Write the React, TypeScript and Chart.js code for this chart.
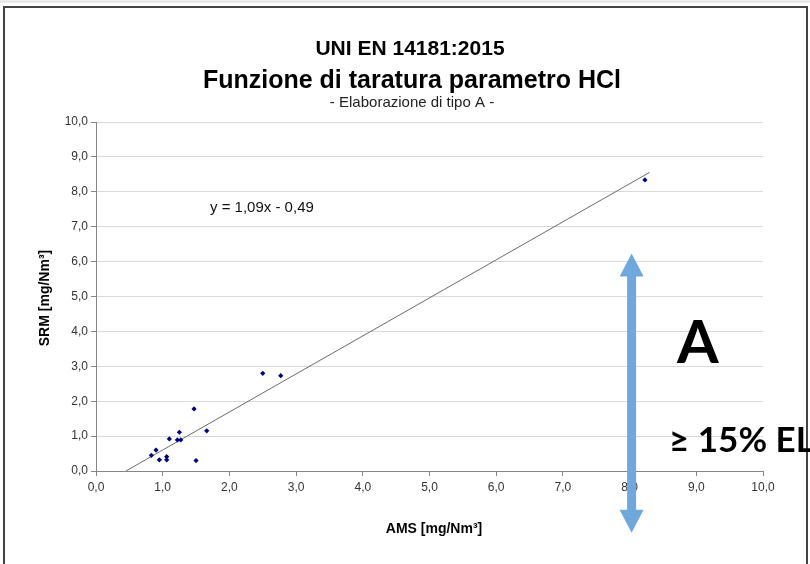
import React, { useEffect, useRef } from "react";
import { Chart, registerables } from "chart.js";
Chart.register(...registerables);

// Data
const amsValues = [0.83, 0.9, 0.95, 1.06, 1.06, 1.1, 1.22, 1.27, 1.25, 1.47, 1.5, 1.66, 2.5, 2.77, 8.23];
const srmValues = [0.45, 0.6, 0.32, 0.41, 0.32, 0.92, 0.89, 0.89, 1.11, 1.78, 0.3, 1.15, 2.8, 2.73, 8.34];
const trendSlope = 1.09;
const trendIntercept = -0.49;
const trendRange = [0.45, 8.3];
const titleLines = ["UNI EN 14181:2015", "Funzione di taratura parametro HCl"];
const subtitleText = "- Elaborazione di tipo A -";
const equationText = "y = 1,09x - 0,49";
const xAxisTitle = "AMS [mg/Nm³]";
const yAxisTitle = "SRM [mg/Nm³]";
const axisMin = 0;
const axisMax = 10;
const axisStep = 1;
const arrowAt = { x: 8.03, top: 6.23, bottom: -1.77 };
const bigLabel = "A";
const rangeLabel = "≥ 15% EL";

const FONT = "'Liberation Sans', Arial, sans-serif";
const fmt = (v: number) => v.toFixed(1).replace(".", ",");

const overlay = {
  id: "overlay",
  afterDraw(chart: any) {
    const ctx = chart.ctx as CanvasRenderingContext2D;
    const xs = chart.scales.x;
    const ys = chart.scales.y;
    ctx.save();
    // frame
    ctx.strokeStyle = "#e2e2e2";
    ctx.lineWidth = 2;
    ctx.beginPath();
    ctx.moveTo(0, 1.5);
    ctx.lineTo(810, 1.5);
    ctx.stroke();
    ctx.strokeStyle = "#444";
    ctx.lineWidth = 2;
    ctx.beginPath();
    ctx.moveTo(4, 570);
    ctx.lineTo(4, 7);
    ctx.lineTo(807, 7);
    ctx.lineTo(807, 570);
    ctx.stroke();

    // titles
    ctx.fillStyle = "#000";
    ctx.textAlign = "center";
    ctx.textBaseline = "alphabetic";
    ctx.font = `bold 21px ${FONT}`;
    ctx.fillText(titleLines[0], 410, 55);
    ctx.font = `bold 25px ${FONT}`;
    ctx.fillText(titleLines[1], 412, 88);
    ctx.font = `15px ${FONT}`;
    ctx.fillStyle = "#222";
    ctx.fillText(subtitleText, 412, 107);

    // equation
    ctx.textAlign = "left";
    ctx.font = `15px ${FONT}`;
    ctx.fillStyle = "#111";
    ctx.fillText(equationText, 210, 212);

    // axis titles
    ctx.fillStyle = "#000";
    ctx.font = `bold 14px ${FONT}`;
    ctx.textAlign = "center";
    ctx.fillText(xAxisTitle, 434, 533);
    ctx.save();
    ctx.translate(49, 298);
    ctx.rotate(-Math.PI / 2);
    ctx.fillText(yAxisTitle, 0, 0);
    ctx.restore();

    // arrow
    const ax = xs.getPixelForValue(arrowAt.x);
    const at = ys.getPixelForValue(arrowAt.top);
    const ab = ys.getPixelForValue(arrowAt.bottom);
    const headH = 23;
    const headW = 12;
    const shaft = 4.5;
    ctx.fillStyle = "#6FA8DC";
    ctx.beginPath();
    ctx.moveTo(ax, at);
    ctx.lineTo(ax + headW, at + headH);
    ctx.lineTo(ax + shaft, at + headH);
    ctx.lineTo(ax + shaft, ab - headH);
    ctx.lineTo(ax + headW, ab - headH);
    ctx.lineTo(ax, ab);
    ctx.lineTo(ax - headW, ab - headH);
    ctx.lineTo(ax - shaft, ab - headH);
    ctx.lineTo(ax - shaft, at + headH);
    ctx.lineTo(ax - headW, at + headH);
    ctx.closePath();
    ctx.fill();

    ctx.fillStyle = "#000";
    ctx.textAlign = "left";
    ctx.font = `bold 60px Lato, 'Open Sans', sans-serif`;
    ctx.fillText(bigLabel, 677, 363);
    ctx.font = `bold 35px Lato, 'Open Sans', sans-serif`;
    ctx.fillText(rangeLabel, 669, 452);
    ctx.restore();
  },
};

export default function App() {
  const ref = useRef<HTMLCanvasElement | null>(null);
  useEffect(() => {
    document.body.style.margin = "0";
    const canvas = ref.current!;
    const chart = new Chart(canvas, {
      type: "scatter",
      data: {
        datasets: [
          {
            label: "Punti",
            data: amsValues.map((x, i) => ({ x, y: srmValues[i] })),
            pointStyle: "rectRot",
            pointRadius: 2.6,
            pointHoverRadius: 2.6,
            backgroundColor: "#000080",
            borderColor: "#000080",
            borderWidth: 0,
            order: 1,
          },
          {
            label: "Trend",
            data: trendRange.map((x) => ({ x, y: trendSlope * x + trendIntercept })),
            showLine: true,
            pointRadius: 0,
            borderColor: "#6a6a6a",
            borderWidth: 1,
            order: 2,
          } as any,
        ],
      },
      options: {
        animation: false,
        responsive: false,
        devicePixelRatio: 1,
        layout: { padding: { top: 122, left: 0, right: 47, bottom: 0 } },
        plugins: {
          legend: { display: false },
          tooltip: { enabled: false },
          title: { display: false },
        },
        scales: {
          x: {
            type: "linear",
            min: axisMin,
            max: axisMax,
            afterFit: (s: any) => {
              s.height = 93;
            },
            ticks: {
              stepSize: axisStep,
              callback: (v: any) => fmt(Number(v)),
              color: "#333",
              font: { family: FONT, size: 12 },
              padding: 4,
              maxRotation: 0,
              autoSkip: false,
            },
            grid: {
              drawOnChartArea: false,
              drawTicks: true,
              tickLength: 5,
              tickColor: "#868686",
            },
            border: { color: "#868686", width: 1 },
          },
          y: {
            type: "linear",
            min: axisMin,
            max: axisMax,
            afterFit: (s: any) => {
              s.width = 96;
            },
            ticks: {
              stepSize: axisStep,
              callback: (v: any) => fmt(Number(v)),
              color: "#333",
              font: { family: FONT, size: 12 },
              padding: 3,
              autoSkip: false,
            },
            grid: {
              color: "#d9d9d9",
              drawTicks: true,
              tickLength: 5,
              tickColor: "#868686",
            },
            border: { color: "#868686", width: 1 },
          },
        },
      },
      plugins: [overlay],
    });
    return () => chart.destroy();
  }, []);
  return <canvas ref={ref} width={810} height={564} style={{ display: "block", width: 810, height: 564 }} />;
}
